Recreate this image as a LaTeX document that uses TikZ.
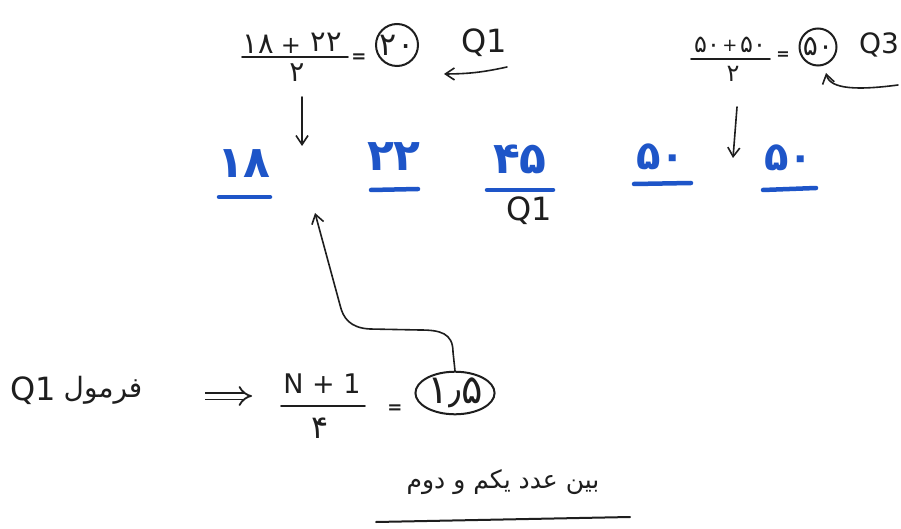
\documentclass[tikz,border=0pt]{standalone}
\usepackage{fontspec}
\setmainfont{DejaVu Sans}
\newfontfamily\arabicfont[Script=Arabic]{DejaVu Sans}
\TeXXeTstate=1
\usetikzlibrary{arrows.meta,shapes.geometric}
\definecolor{inkblue}{RGB}{30,85,200}
\definecolor{ink}{RGB}{30,30,30}
\newcommand{\fsz}[1]{\fontsize{#1}{#1}\selectfont}
\tikzset{
  txt/.style={text=ink, inner sep=1pt},
  numb/.style={text=inkblue, inner sep=1pt, font=\bfseries\fsz{44}},
  uline/.style={draw=inkblue, line width=4.5pt, line cap=round},
  bar/.style={draw=ink, line width=1.8pt, line cap=round},
  inkarrow/.style={draw=ink, line width=1.6pt, line cap=round, -{Straight Barb[length=9pt,width=12pt,line width=1.6pt]}},
  ring/.style={draw=ink, line width=2pt, circle, inner sep=0pt, text=ink}
}
\begin{document}
\begin{tikzpicture}[x=1pt,y=-1pt]
\useasboundingbox (0,0) rectangle (901,529);
\fill[white] (0,0) rectangle (901,529);

% ---- top left formula: (18+22)/2 = 20 <- Q1
\node[txt, font=\fsz{29}] (n1a) at (258,44) {۱۸};
\node[txt, font=\fsz{24}] (n1p) at (291,46) {+};
\node[txt, font=\fsz{29}] (n1b) at (326,42) {۲۲};
\draw[bar] (242,57) -- (348,57);
\node[txt, font=\fsz{28}] (d1) at (297,73) {۲};
\node[txt, font=\bfseries\fsz{18}] (e1) at (359,58) {=};
\node[ring, minimum size=42pt, font=\fsz{32}] (c1) at (397,45) {۲۰};
\node[txt, font=\fsz{32}] (q1a) at (484,43) {Q1};
\coordinate (s1) at (507,67);
\coordinate (t1) at (444,74);
\draw[inkarrow] (s1) to[bend left=6] (t1);
\coordinate (a1s) at (302,97);
\coordinate (a1e) at (302,146);
\draw[inkarrow] (a1s) -- (a1e);

% ---- top right formula: (50+50)/2 = 50 <- Q3
\node[txt, font=\fsz{24}] (n2a) at (707,45) {۵۰};
\node[txt, font=\fsz{18}] (n2p) at (730,46) {+};
\node[txt, font=\fsz{24}] (n2b) at (753,45) {۵۰};
\draw[bar] (691,59) -- (770,59);
\node[txt, font=\fsz{24}] (d2) at (733,74) {۲};
\node[txt, font=\bfseries\fsz{16}] (e2) at (783,56) {=};
\node[ring, minimum size=37pt, font=\fsz{28}] (c2) at (818,47) {۵۰};
\node[txt, font=\fsz{28}] (q3) at (879,45) {Q3};
\coordinate (s2) at (898,85);
\coordinate (t2) at (826,73);
\draw[inkarrow] (s2) .. controls (860,90) and (830,90) .. (t2);
\coordinate (a2s) at (737,107);
\coordinate (a2e) at (733,158);
\draw[inkarrow] (a2s) -- (a2e);

% ---- data row
\node[numb] (v1) at (244,164) {۱۸};
\node[numb] (v2) at (394,157) {۲۲};
\node[numb] (v3) at (520,159) {۴۵};
\node[numb, font=\bfseries\fsz{40}] (v4) at (661,157) {۵۰};
\node[numb, font=\bfseries\fsz{40}] (v5) at (789,158) {۵۰};
\draw[uline] (219,197) -- (270,197);
\draw[uline] (371,190) -- (418,189);
\draw[uline] (487,190) -- (553,190);
\draw[uline] (634,184) -- (691,183);
\draw[uline] (763,190) -- (816,188);
\node[txt, font=\fsz{32}] (q1b) at (529,211) {Q1};

% ---- bottom formula
\node[txt, font=\fsz{32}] (q1c) at (33,391) {Q1};
\node[txt, font=\fsz{28}] (fr) at (103,390) {\arabicfont\beginR فرمول\endR};
\coordinate (im1) at (205,396);
\coordinate (im2) at (252,396);
\draw[draw=ink, double=white, double distance=5pt, line width=1.8pt, -{Implies}] (im1) -- (im2);
\node[txt, font=\fsz{27}] (n3) at (322,384) {N + 1};
\draw[bar] (281,406) -- (365,406);
\node[txt, font=\fsz{32}] (d3) at (320,428) {۴};
\node[txt, font=\bfseries\fsz{18}] (e3) at (395,409) {=};
\node[draw=ink, line width=2pt, ellipse, minimum width=68pt, minimum height=42pt, inner sep=0pt, text=ink, font=\fsz{40}] (c3) at (455,393) {۱٫۵};
\coordinate (t3) at (315,213);
\draw[inkarrow] (c3.north) -- (453,352) .. controls (453,333) and (440,330) .. (420,330) -- (370,329) .. controls (350,328) and (343,318) .. (340,305) -- (t3);

% ---- note below
\node[txt, font=\fsz{25}] (note) at (503,482) {\arabicfont\beginR بین عدد یکم و دوم\endR};
\draw[bar, line width=2pt] (376,522) -- (630,517);
\end{tikzpicture}
\end{document}
